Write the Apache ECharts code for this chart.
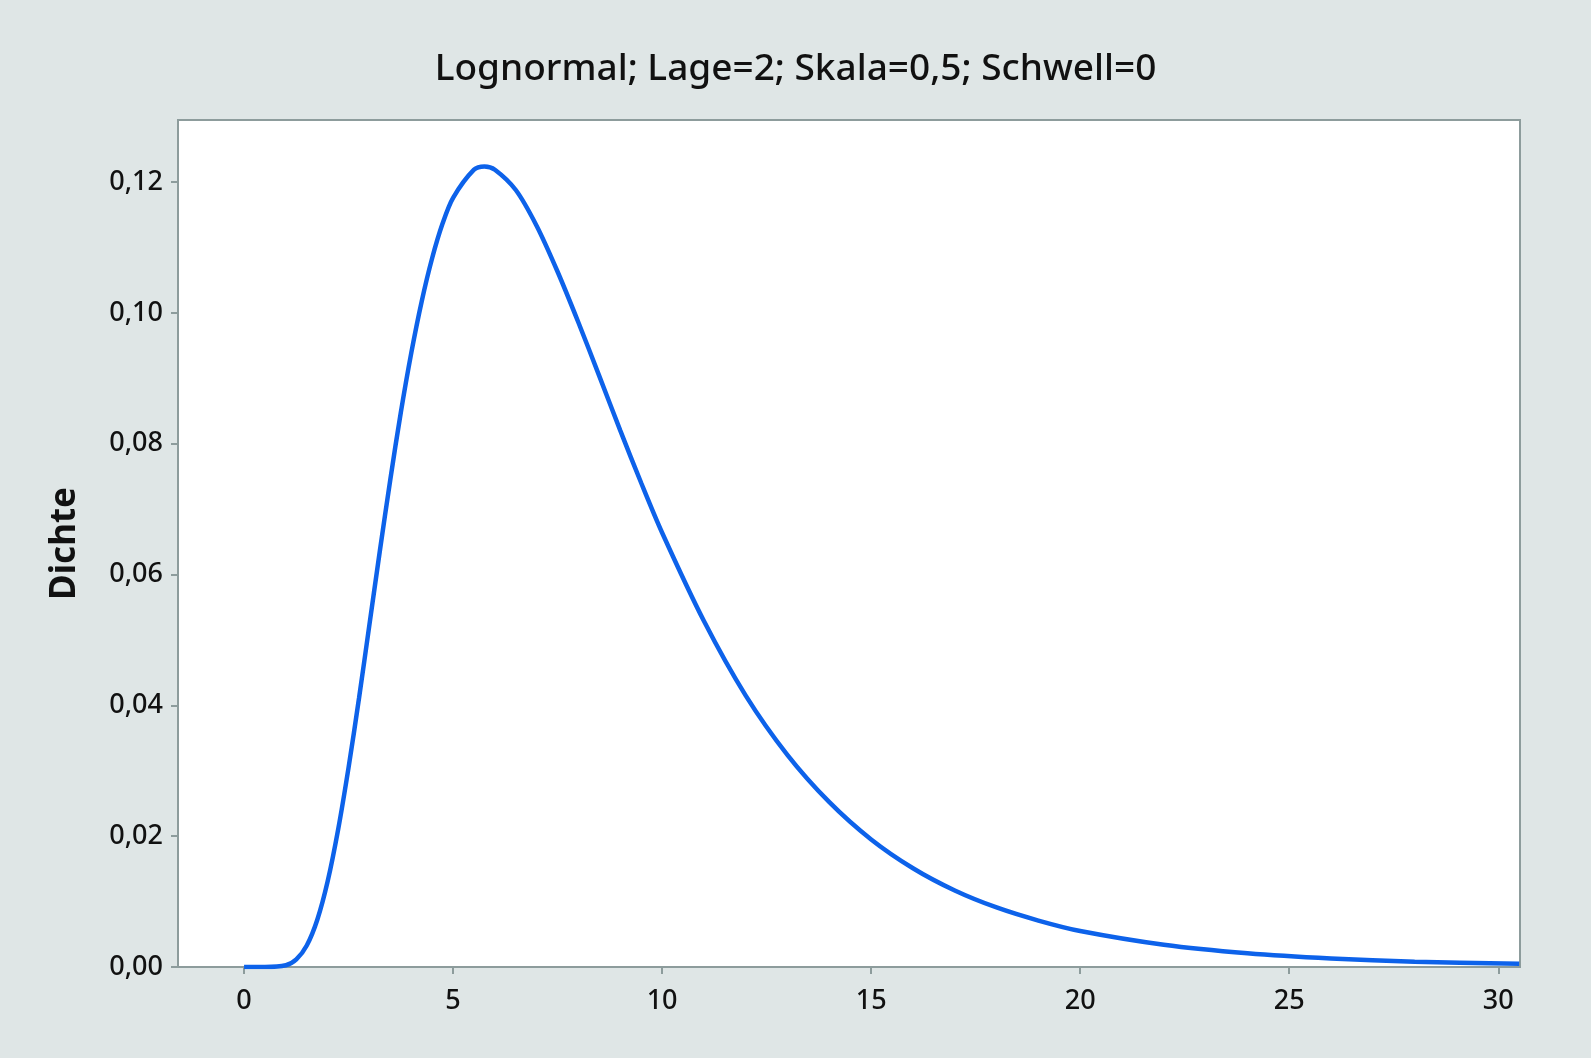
<!DOCTYPE html>
<html>
<head>
<meta charset="utf-8">
<script src="https://cdn.jsdelivr.net/npm/echarts@6/dist/echarts.min.js"></script>
<style>
html,body{margin:0;padding:0;background:#dfe6e6;}
#c{width:1591px;height:1058px;}
</style>
</head>
<body>
<div id="c"></div>
<script>
const titleText = 'Lognormal; Lage=2; Skala=0,5; Schwell=0';
const yAxisName = 'Dichte';
const xTicks = [0, 5, 10, 15, 20, 25, 30];
const yTicks = [0, 0.02, 0.04, 0.06, 0.08, 0.10, 0.12];
const xValues = [0, 0.5, 1, 1.25, 1.5, 1.75, 2, 2.25, 2.5, 2.75, 3, 3.25, 3.5, 3.75, 4, 4.25, 4.5, 4.75, 5, 5.5, 5.75, 6, 6.5, 7, 7.5, 8, 8.5, 9, 9.5, 10, 11, 12, 13, 14, 15, 16, 17, 18, 19, 20, 22, 24, 26, 28, 30.5];
const densities = [0, 0, 0.00027, 0.00116, 0.00329, 0.00719, 0.0131, 0.0210, 0.0305, 0.0411, 0.0524, 0.0637, 0.0746, 0.0848, 0.0939, 0.1018, 0.1084, 0.1137, 0.1176, 0.1219, 0.1224, 0.1219, 0.1188, 0.1133, 0.1063, 0.0985, 0.0903, 0.0820, 0.0740, 0.0664, 0.0529, 0.0415, 0.0324, 0.0252, 0.0195, 0.0151, 0.0117, 0.0091, 0.0071, 0.0055, 0.0034, 0.0021, 0.0013, 0.0008, 0.0005];

const chart = echarts.init(document.getElementById('c'));
const fmt = v => v.toFixed(2).replace('.', ',');
const axisGray = '#8d9c9c';
chart.setOption({
  backgroundColor: '#dfe6e6',
  animation: false,
  title: {
    text: titleText,
    left: 'center',
    top: 46,
    textStyle: {fontFamily: 'Noto Sans', fontSize: 37, fontWeight: 500, color: '#111'}
  },
  grid: {
    left: 178, right: 71, top: 120, bottom: 91,
    show: true, backgroundColor: '#ffffff', borderColor: axisGray, borderWidth: 2
  },
  xAxis: {
    type: 'value', min: -1.58, max: 30.52,
    splitLine: {show: false},
    axisLine: {show: true, onZero: false, lineStyle: {color: axisGray, width: 2}},
    axisTick: {show: true, length: 7, customValues: xTicks, lineStyle: {color: axisGray, width: 2}},
    axisLabel: {customValues: xTicks, fontFamily: 'Noto Sans', fontSize: 27, fontWeight: 500, color: '#111', margin: 21}
  },
  yAxis: {
    type: 'value', min: 0, max: 0.1295,
    name: yAxisName, nameLocation: 'middle', nameGap: 95, nameRotate: 90,
    nameTextStyle: {fontFamily: 'Noto Sans', fontSize: 35, fontWeight: 'bold', color: '#111'},
    splitLine: {show: false},
    axisLine: {show: true, onZero: false, lineStyle: {color: axisGray, width: 2}},
    axisTick: {show: true, length: 7, customValues: yTicks, lineStyle: {color: axisGray, width: 2}},
    axisLabel: {customValues: yTicks, formatter: fmt, fontFamily: 'Noto Sans', fontSize: 27, fontWeight: 500, color: '#111', margin: 15}
  },
  series: [{
    type: 'line',
    data: xValues.map((x, i) => [x, densities[i]]),
    smooth: 0.3,
    showSymbol: false,
    lineStyle: {color: '#0d62ea', width: 4.5},
    clip: true
  }]
});
</script>
</body>
</html>
